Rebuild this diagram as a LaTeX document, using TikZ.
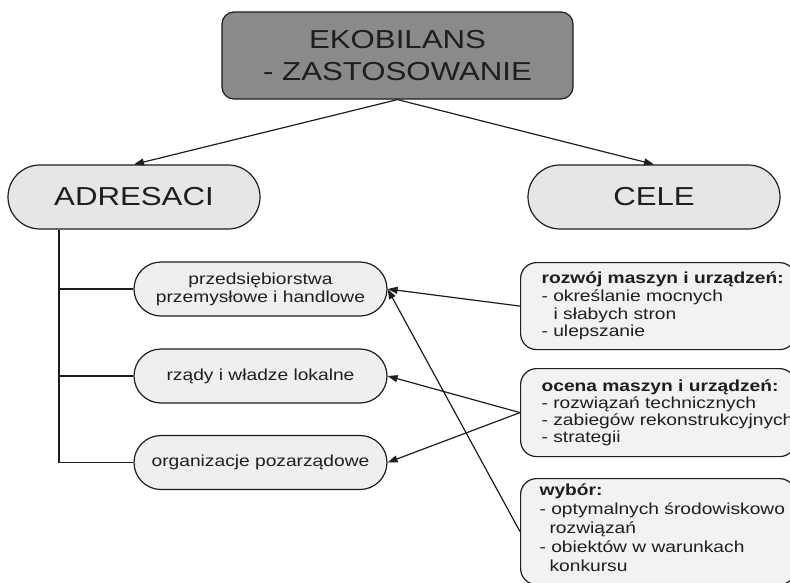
\documentclass[tikz,border=0pt]{standalone}
\usepackage{fontspec}
\setmainfont{Liberation Sans}[FakeStretch=1.2]
\usetikzlibrary{arrows.meta,shapes.misc}
\definecolor{ink}{HTML}{1E1E1E}
\definecolor{topfill}{HTML}{8A8A8A}
\definecolor{bigfill}{HTML}{E6E6E6}
\definecolor{pillfill}{HTML}{EFEFEF}
\definecolor{boxfill}{HTML}{F2F2F2}
\tikzset{
  titlebox/.style={draw=ink, fill=topfill, rounded corners=12pt, minimum width=351pt, minimum height=87pt, align=center, text=ink, inner sep=0pt, font=\fontsize{26}{32}\selectfont},
  bigpill/.style={draw=ink, fill=bigfill, rounded rectangle, minimum width=252pt, minimum height=64pt, inner sep=0pt, text=ink, font=\fontsize{26}{30}\selectfont},
  smallpill/.style={draw=ink, fill=pillfill, rounded rectangle, minimum width=253pt, minimum height=54pt, inner sep=0pt, align=center, text=ink, font=\fontsize{16}{18}\selectfont},
  goalbox/.style={draw=ink, fill=boxfill, rounded corners=16pt, anchor=north west, minimum width=275pt, inner sep=0pt},
  goaltext/.style={align=left, inner sep=0pt, text=ink},
  arr/.style={draw=ink, -{Triangle[length=10pt,width=7pt]}},
  conn/.style={draw=ink}
}
\begin{document}
\begin{tikzpicture}[x=1pt,y=-1pt,line width=1.2pt]
\useasboundingbox (0,0) rectangle (790,582);
\clip (0,0) rectangle (790,582);
\fill[white] (0,0) rectangle (790,582);
\node[titlebox] (top) at (397.5,55.5) {EKOBILANS\\- ZASTOSOWANIE};
\node[bigpill] (adr) at (134,197) {ADRESACI};
\node[bigpill] (cele) at (654,197) {CELE};
\node[smallpill] (p1) at (260.5,289) {przedsiębiorstwa\\przemysłowe i handlowe};
\node[smallpill] (p2) at (260.5,376) {rządy i władze lokalne};
\node[smallpill] (p3) at (260.5,462.5) {organizacje pozarządowe};
\node[goalbox, minimum height=87pt] (g1) at (520,262) {};
\node[goalbox, minimum height=88pt] (g2) at (520,368) {};
\node[goalbox, minimum height=106pt] (g3) at (520,478) {};
\node[goaltext, anchor=west, font=\fontsize{16}{17.6}\selectfont] (t1) at ([xshift=21pt]g1.west)
  {\textbf{rozwój maszyn i urządzeń:}\\- określanie mocnych\\\hspace*{12pt}i słabych stron\\- ulepszanie};
\node[goaltext, anchor=west, font=\fontsize{16}{17}\selectfont] (t2) at ([xshift=21pt]g2.west)
  {\textbf{ocena maszyn i urządzeń:}\\- rozwiązań technicznych\\- zabiegów rekonstrukcyjnych\\- strategii};
\node[goaltext, anchor=north west, font=\fontsize{16}{18.8}\selectfont] (t3) at ([xshift=19pt,yshift=-5.5pt]g3.north west)
  {\textbf{wybór:}\\- optymalnych środowiskowo\\\hspace*{10pt}rozwiązań\\- obiektów w warunkach\\\hspace*{10pt}konkursu};
\draw[arr] (top.south) -- (adr.north);
\draw[arr] (top.south) -- (cele.north);
\coordinate (tr) at ([xshift=-75pt]adr.south);
\draw[conn] (tr) |- (p3.west);
\draw[conn] (p1.west) -- (p1.west -| tr);
\draw[conn] (p2.west) -- (p2.west -| tr);
\draw[arr] (g1.west) -- (p1.east);
\draw[arr] (g2.west) -- (p2.east);
\draw[arr] (g2.west) -- (p3.east);
\draw[arr] (g3.west) -- (p1.east);
\end{tikzpicture}
\end{document}
